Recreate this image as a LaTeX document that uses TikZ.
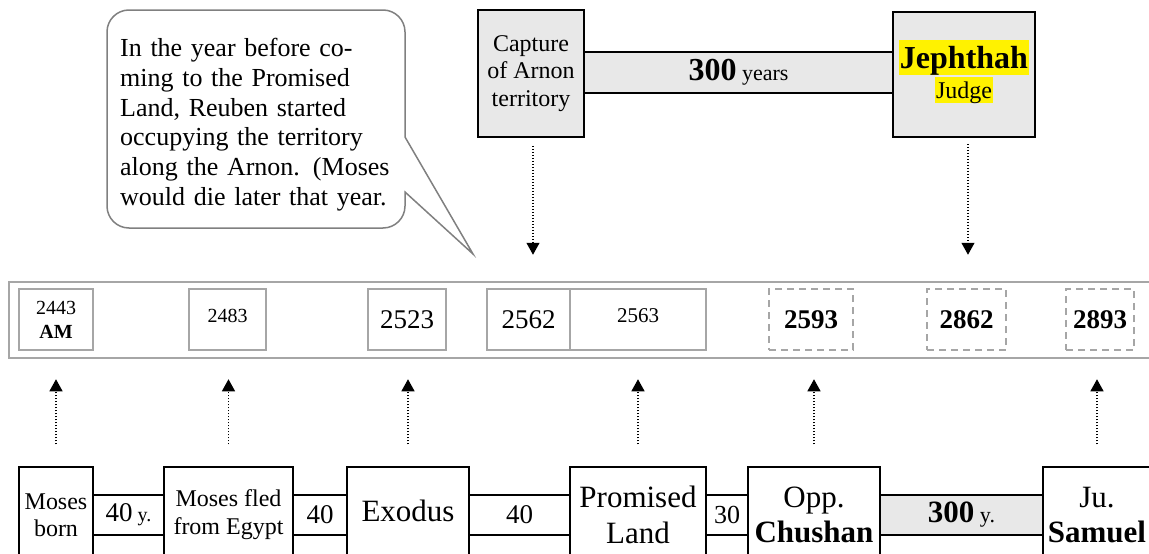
\documentclass[tikz,border=0pt]{standalone}
\usepackage{fontspec}
\setmainfont{Liberation Serif}
\usetikzlibrary{arrows.meta,calc}
\definecolor{boxgray}{HTML}{E8E8E8}
\definecolor{bandgray}{HTML}{A6A6A6}
\definecolor{callgray}{HTML}{808080}
\newcommand{\fz}[2]{\fontsize{#1pt}{#2pt}\selectfont}
\begin{document}
\begin{tikzpicture}[x=1pt,y=1pt,
  blk/.style={draw=black,fill=white,line width=1.5pt,inner sep=0pt,align=center},
  gbox/.style={blk,fill=boxgray},
  yr/.style={draw=bandgray,line width=1.5pt,inner sep=0pt,align=center},
  yrd/.style={yr,dash pattern=on 7pt off 5pt},
  pointer/.style={line width=1.2pt,dash pattern=on 1.2pt off 1.8pt,-{Triangle[width=13pt,length=12pt]}},
  hl/.style={fill=yellow,inner xsep=1pt,inner ysep=0pt}]
\useasboundingbox (0,0) rectangle (1149,-554);
\clip (0,0) rectangle (1149,-554);

% callout
\draw[callgray,line width=1.5pt,fill=white]
  (129,-10) -- (383,-10) arc[start angle=90,end angle=0,radius=22]
  -- (405,-137) -- (473,-254) -- (405,-192) -- (405,-206)
  arc[start angle=0,end angle=-90,radius=22] -- (129,-228)
  arc[start angle=270,end angle=180,radius=22] -- (107,-32)
  arc[start angle=180,end angle=90,radius=22] -- cycle;
\node[inner sep=0pt,text width=275pt,align=left,anchor=north west,font=\fz{26}{29.8}] (note) at (120,-38) {%
\makebox[275pt][s]{In the year before co-}\\
\makebox[275pt][s]{ming to the Promised}\\
\makebox[275pt][s]{Land, Reuben started}\\
\makebox[275pt][s]{occupying the territory}\\
\makebox[275pt][s]{along the Arnon. (Moses}\\
would die later that year.};

% top
\node[gbox,minimum width=309,minimum height=41,font=\fz{22}{22}] (gap) at (738.5,-72.5)
  {{\fz{32}{32}\bfseries 300} years};
\node[gbox,minimum width=106,minimum height=127,font=\fz{24}{27.5}] (cap) at (531,-73.5)
  {Capture\\of Arnon\\territory};
\node[gbox,minimum width=142,minimum height=125] (jep) at (964,-74.5) {};
\node[hl,font=\fz{32}{32}\bfseries,text height=28.5pt,text depth=7pt] (jname) at (964,-57.5) {Jephthah};
\node[hl,font=\fz{24}{24},text height=21.4pt,text depth=5.2pt] (jrole) at (964,-90) {Judge};

\draw[pointer] ([xshift=2pt,yshift=-8pt]cap.south) -- ++(0,-109);
\draw[pointer] ([xshift=4pt,yshift=-6pt]jep.south) -- ++(0,-111);

% band
\node[yr,minimum width=1160,minimum height=76] (band) at (589,-320) {};
\node[yr,minimum width=74,minimum height=61,font=\fz{20}{24}] (y2443) at (56,-319.5) {2443\\\textbf{AM}};
\node[yr,minimum width=77,minimum height=61] (y2483) at (227.5,-319.5) {};
\node[font=\fz{20}{24}] (t2483) at (227.5,-316) {2483};
\node[yr,minimum width=78,minimum height=61,font=\fz{27}{27}] (y2523) at (407,-319.5) {2523};
\node[yr,minimum width=83,minimum height=61,font=\fz{27}{27}] (y2562) at (528.5,-319.5) {2562};
\node[yr,minimum width=136,minimum height=61] (y2563) at (638,-319.5) {};
\node[font=\fz{21}{24}] (t2563) at (638,-316) {2563};
\node[yrd,minimum width=84,minimum height=61,font=\fz{27}{27}\bfseries] (y2593) at (811,-319.5) {2593};
\node[yrd,minimum width=79,minimum height=61,font=\fz{27}{27}\bfseries] (y2862) at (966.5,-319.5) {2862};
\node[yrd,minimum width=68,minimum height=61,font=\fz{27}{27}\bfseries] (y2893) at (1100,-319.5) {2893};

% bottom bars
\node[blk,minimum width=71,minimum height=40,font=\fz{20}{20}] (g1) at (128.5,-515) {{\fz{27}{27}40} y.};
\node[blk,minimum width=54,minimum height=40,font=\fz{27}{27}] (g2) at (320,-515) {40};
\node[blk,minimum width=101,minimum height=40,font=\fz{27}{27}] (g3) at (519.5,-515) {40};
\node[blk,minimum width=42,minimum height=40,font=\fz{26}{26}] (g4) at (727,-515) {30};
\node[gbox,minimum width=163,minimum height=40,font=\fz{22}{22}] (g5) at (961.5,-515) {{\fz{31}{31}\bfseries 300} y.};

% bottom boxes
\node[blk,minimum width=74,minimum height=96,font=\fz{24}{27}] (b1) at (56,-515) {Moses\\born};
\node[blk,minimum width=129,minimum height=96,font=\fz{24}{28}] (b2) at (228.5,-515) {Moses fled\\from Egypt};
\node[blk,minimum width=122,minimum height=96] (b3) at (408,-515) {};
\node[font=\fz{31}{31},inner sep=0pt] (t3) at (408,-511) {Exodus};
\node[blk,minimum width=136,minimum height=96,font=\fz{31}{36}] (b4) at (638,-515) {Promised\\Land};
\node[blk,minimum width=132,minimum height=96,font=\fz{31}{35}] (b5) at (814,-515) {Opp.\\\textbf{Chushan}};
\node[blk,minimum width=108,minimum height=96,font=\fz{31}{35}] (b6) at (1097,-515) {Ju.\\\textbf{Samuel}};

\foreach \b in {b1,b2,b3,b4,b5,b6}
  \draw[pointer] ([yshift=22pt]\b.north) -- ++(0,65);
\end{tikzpicture}
\end{document}
